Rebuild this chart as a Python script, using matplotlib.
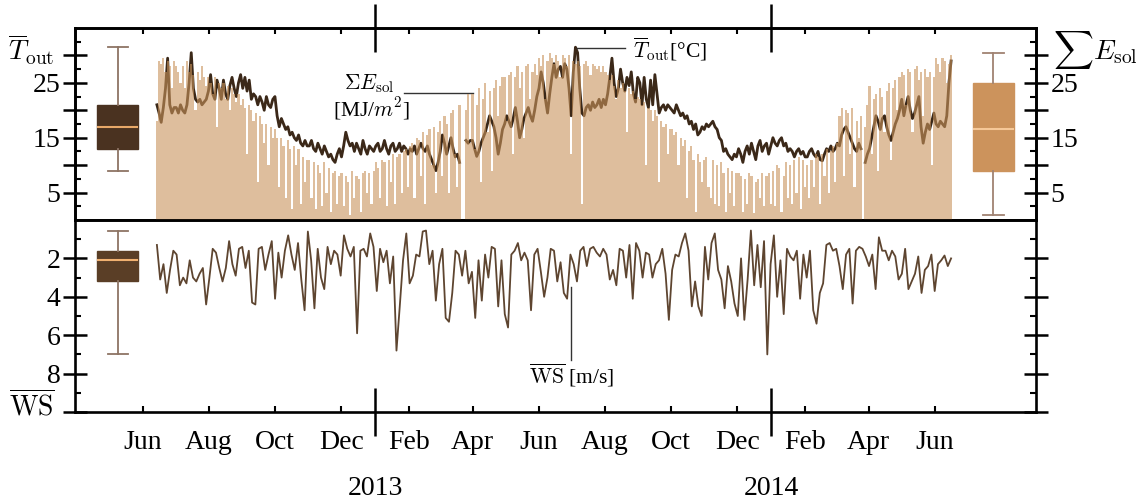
import numpy as np
import matplotlib
matplotlib.use("Agg")
import matplotlib.pyplot as plt
import matplotlib.dates as mdates
import matplotlib.transforms as mtransforms
from matplotlib.ticker import FixedLocator

plt.rcParams['font.family'] = ['Liberation Serif', 'DejaVu Serif']
plt.rcParams['mathtext.fontset'] = 'cm'
plt.rcParams['font.size'] = 20

nan = np.nan

# daily-mean outdoor temperature [degC], read every ~2 days, 2012-06-14 .. 2014-06-16
t_out = [
    21, 19.5, 17.8, 20.5, 24, 29.5, 21, 19.5, 20.5,                              # Jun 12
    20.5, 19.5, 21, 20, 19.5, 21, 25, 30.5, 24, 22, 21.5, 22, 21, 21.5, 22,         # Jul
    23.5, 26.5, 23, 22, 25.5, 24, 22, 25.5, 23, 22, 24.5, 26, 24, 22.5, 25, 26.5,   # Aug
    24, 26, 23.5, 25.5, 22, 23, 22.5, 21, 22.5, 21.5, 20, 22.5, 21, 20.5, 22,       # Sep
    22.5, 19, 17, 18.5, 17.5, 16.5, 17, 15.5, 16, 15, 14.5, 15.5, 14, 13.5, 14.5, 13.5,  # Oct
    13.5, 14.5, 13, 12.5, 14, 13, 12, 13.5, 12.5, 11.5, 12, 11, 10.5, 12, 13,       # Nov
    11.5, 13.5, 16, 14.5, 13.5, 14, 12.5, 14, 13, 12, 14.5, 13, 12, 13.5, 13, 12.5, # Dec
    13.5, 14, 12.5, 13, 14.5, 13, 12, 13.5, 14, 12.5, 13, 14, 12.5, 13.5, 13, 12,   # Jan 13
    13, 12.5, 13.5, 12, 13, 14, 13, 12.5, 13.5, 12, 11, 10, 9, 10.5,                # Feb
    12.5, 15.5, 14, 12, 13.5, 15, 13, 11.5, 12, 10.5, nan, nan, 14.5, 14, 14.5,     # Mar
    14.5, 13, 11.6, 12.5, 14, 15, 16, 17.5, 19, 18, 17, 15, 12, 14, 16.5,           # Apr
    17.5, 19, 18, 17, 18.5, 20.5, 18, 15, 16.5, 18.5, 19.5, 20.5, 19, 18, 20, 22.5, # May
    24, 27, 25, 22, 19.5, 23, 26, 28.5, 26, 27.5, 28, 26, 28.5, 27.5, 24,           # Jun
    19, 27, 31.5, 30.5, 24, 19.5, 19, 20.5, 21, 20, 21.5, 20.5, 21, 22, 20.5, 22,   # Jul
    21, 23, 26, 29.5, 25, 22.5, 24, 27.5, 25, 23.5, 26, 24.5, 27, 23, 21.5, 26,     # Aug
    25, 21, 26, 22, 20.5, 25.5, 21, 26.5, 23, 19.5, 20.5, 21, 20, 21, 20.5,         # Sep
    20, 19.5, 21, 20, 19, 19.5, 18.5, 19, 17.5, 18, 16.5, 17.5, 15.5, 16, 17, 16.5, # Oct
    17.5, 17, 17.5, 18, 17, 16.5, 15, 14.5, 12.5, 13, 12, 11.5, 11, 12, 11.5,       # Nov
    13, 12, 10.5, 12.5, 13.5, 12, 14, 12.5, 11, 13.5, 14.5, 12.5, 13.5, 14, 12, 13.5,  # Dec
    15, 14, 13.5, 14.5, 15, 13.5, 14, 12.5, 13, 12.5, 11.5, 12.5, 13, 12, 12.5, 11.5,  # Jan 14
    11.5, 12.5, 13, 12, 11.5, 12.5, 11, 10.8, 12, 13, 12.5, 13.5, 12.5, 13,         # Feb
    14, 13.5, 15.5, 16.5, 17, 16, 15, 14, 13, 12.5, 14, 13, nan, 10.5, 12,          # Mar
    13, 15, 17, 19, 18, 16.5, 18.5, 19, 17, 15.5, 14.5, 16, 17.5, 18.5, 20,         # Apr
    22, 19, 21, 22.5, 20, 18.5, 19.5, 21, 22.5, 17, 14, 16, 17.5, 16.5, 18, 19.5,   # May
    17.5, 17, 18, 17.5, 17, 19, 25, 29,                                             # Jun
]

# daily solar irradiation sum [MJ/m2], same sampling
e_sol = [
    18, 29, 28.5, 29.5, 27, 29, 28, 24, 29,
    28, 27, 25, 28, 24, 29, 27, 28.5, 26.5, 20, 27, 25.5, 28, 26, 24.5,
    26, 25, 23, 26, 17, 25, 24, 25, 22, 24.5, 20, 24, 23, 21.5, 23, 21,
    22, 20.5, 12, 21, 20, 18, 19.5, 7, 19, 17.5, 14, 17.5, 10, 17, 15,
    16.5, 15, 6, 15, 13.5, 4, 14.5, 13, 2, 13.5, 10, 13, 3, 11.5, 7, 11,
    11, 4, 10.5, 2, 10, 8.5, 2.5, 10.5, 5, 9.5, 1.5, 8.5, 9, 3, 8,
    8.5, 2.5, 8, 7, 0.9, 9, 4, 8, 7.5, 1.5, 8.5, 9, 5, 8.5, 3, 9,
    10.5, 9.5, 4, 11, 10.5, 2.5, 11, 7, 12, 3, 11.5, 12, 5, 12.5, 13, 6,
    13.5, 14, 4, 15, 14.5, 8, 16, 3, 15.5, 16.5, 10, 17, 5, 16,
    18, 8, 19, 17.5, 5, 19.5, 20, 12, 6, 21, nan, nan, 20, 23, 14,
    23, 13, 21, 24, 7, 22, 25, 16, 23.5, 9, 24, 25.5, 19, 24.5, 26,
    26, 18, 26.5, 27, 12, 26, 28, 24, 27, 15, 28, 28.5, 22, 27, 28.5, 26.5,
    29.5, 28, 30, 22, 29, 30.5, 29.5, 28.5, 30, 29, 26, 30, 29.5, 28, 30,
    12, 29, 28.5, 29, 28, 3, 28.5, 29, 28, 26.5, 28.5, 28, 27.5, 28, 27, 28,
    27, 26.5, 25.5, 26.5, 24.5, 22, 25.5, 24, 25, 23.5, 16, 24, 23, 23.5, 22, 22.5,
    22, 21, 21.5, 10, 20.5, 20, 18, 20, 19, 7, 18, 17, 17.5, 12, 16.5,
    16.5, 15.5, 16, 10, 15, 13.5, 14.5, 4, 12.5, 13.5, 11, 1.5, 12, 10.5, 7, 11,
    11.5, 6, 4, 11, 3, 10, 2.5, 10.5, 8.5, 1.5, 9.5, 5, 9, 2.5, 8.5,
    8.5, 8, 1.5, 7.5, 3, 8.5, 8, 1.2, 7, 7.5, 4, 8.5, 2.5, 8, 8.5, 3,
    9, 2.5, 10, 9.5, 1.5, 8, 10.5, 4, 10, 3, 11, 5, 11.5, 2, 11, 6,
    10, 4, 11, 6, 12, 11.5, 3, 12, 8, 13, 5, 12.5, 13.5, 7,
    14, 19, 20.5, 8, 20, 19.5, 12, 20.5, 6, 18, 15, 19, nan, 17, 21,
    24.5, 12, 22, 23, 9, 24, 22.5, 16, 23.5, 25, 11, 24, 25.5, 20, 26,
    27, 26.5, 21, 27.5, 27, 16, 27.5, 28, 25.5, 27, 19, 27.5, 26, 27, 10, 26,
    29.5, 28.5, 27, 29.5, 29, 25, 28.5, 30,
]

# daily-mean wind speed [m/s], read every ~3 days
ws = [
    1.3, 3.1, 2.3, 3.8, 2.6, 1.6, 1.8, 3.4, 3.0, 3.3,
    2.1, 3.0, 3.2, 2.8, 2.5, 4.4, 3.0, 1.5, 1.7, 2.5, 3.2,
    2.5, 1.1, 2.3, 2.9, 1.5, 1.4, 2.5, 1.6, 4.3, 4.4,
    1.5, 1.4, 2.6, 1.8, 1.1, 4.1, 1.7, 3.0, 1.6, 0.8,
    1.8, 2.6, 1.2, 3.1, 4.7, 0.6, 2.1, 4.6, 1.5, 3.0,
    3.6, 1.4, 2.3, 1.6, 1.8, 2.9, 0.8, 1.5, 1.9, 1.4, 5.9,
    1.6, 1.5, 1.9, 0.7, 1.4, 3.7, 1.5, 2.2, 1.6, 3.3,
    1.9, 6.8, 4.5, 2.1, 0.7, 3.3, 2.9, 1.8, 1.9, 0.6,
    0.55, 2.3, 1.6, 4.2, 2.3, 1.5, 5.1, 5.3, 3.8, 1.6,
    1.8, 2.9, 1.6, 3.3, 2.7, 5.1, 2.1, 4.2, 1.8, 3.0, 1.4,
    1.5, 4.5, 2.1, 4.9, 5.6, 1.8, 1.6, 1.2, 2.1, 1.7, 2.1,
    4.7, 1.8, 1.5, 2.7, 4.0, 3.0, 1.5, 1.6, 3.2, 2.2,
    3.8, 4.1, 1.8, 2.3, 3.2, 1.6, 1.4, 2.4, 1.5, 1.4, 1.7,
    1.9, 1.5, 1.8, 3.1, 2.6, 3.4, 1.5, 1.6, 3.0, 1.3,
    4.1, 1.2, 1.6, 3.0, 1.7, 1.8, 3.0, 2.3, 2.1, 1.5, 2.8,
    5.2, 2.6, 1.8, 1.9, 1.2, 0.7, 1.6, 4.5, 3.2,
    4.5, 5.0, 1.4, 3.1, 1.2, 0.7, 2.6, 3.1, 4.6, 2.4,
    3.2, 4.35, 5.0, 2.0, 5.2, 3.1, 0.55, 3.4, 1.3, 3.5,
    1.1, 7.0, 2.3, 0.8, 4.0, 2.1, 4.9, 1.5, 1.9, 2.1,
    1.6, 4.1, 1.8, 3.0, 1.6, 4.7, 5.4, 3.8, 3.3, 1.3,
    1.2, 1.6, 1.5, 2.4, 3.6, 1.8, 1.5, 4.35, 1.6, 1.4,
    1.5, 1.9, 2.4, 1.8, 3.6, 0.9, 1.6, 1.6, 2.1, 1.6,
    1.9, 3.1, 2.8, 1.5, 3.6, 3.2, 2.8, 1.9, 3.8, 2.6,
    2.4, 1.8, 3.7, 2.3, 2.1, 1.85, 2.4, 2.0,
]

month_ticks = ['2012-06-01', '2012-08-01', '2012-10-01', '2012-12-01',
               '2013-02-01', '2013-04-01', '2013-06-01', '2013-08-01',
               '2013-10-01', '2013-12-01', '2014-02-01', '2014-04-01', '2014-06-01']
year_ticks = ['2013-01-01', '2014-01-01']

first_day = np.datetime64('2012-06-14')
last_day = np.datetime64('2014-06-16')

c_temp = '#3b2818'
c_bar = '#c8935c'
c_wind = '#5e4530'


def dnum(s):
    return mdates.date2num(np.datetime64(s))


def day_positions(values):
    span = (last_day - first_day).astype(int)
    return dnum(first_day) + np.linspace(0, span, len(values))


t_arr = np.array(t_out, dtype=float)
s_arr = np.array(e_sol, dtype=float)
w_arr = np.array(ws, dtype=float)
x_t = day_positions(t_arr)
x_s = day_positions(s_arr)
x_w = day_positions(w_arr)

fig = plt.figure(figsize=(11.38, 5.01), dpi=100)
ax_t = fig.add_axes([0.0659, 0.5609, 0.8445, 0.3832])
ax_w = fig.add_axes([0.0659, 0.1776, 0.8445, 0.3833], sharex=ax_t)
ax_s = ax_t.twinx()

# temperature line + solar bars on top (semi transparent)
ax_t.plot(x_t, t_arr, color=c_temp, lw=2.0)
ax_s.bar(x_s, s_arr, width=x_s[1] - x_s[0], color=c_bar, alpha=0.6, linewidth=0)

box_w = 38
left_pos = dnum('2012-05-09')
right_pos = dnum('2014-07-25')


def draw_box(ax, data, pos, face, med, whisk):
    ax.boxplot(data[~np.isnan(data)], positions=[pos], widths=box_w, whis=(0, 100),
               patch_artist=True, showfliers=False, manage_ticks=False,
               boxprops=dict(facecolor=face, edgecolor=face, linewidth=1),
               medianprops=dict(color=med, linewidth=1.5),
               whiskerprops=dict(color=whisk, linewidth=1.3),
               capprops=dict(color=whisk, linewidth=1.3))


draw_box(ax_t, t_arr, left_pos, '#4a3220', '#e8a868', '#8e7464')
draw_box(ax_s, s_arr, right_pos, '#cc935c', '#f6c898', '#a08272')

ax_w.plot(x_w, w_arr, color=c_wind, lw=1.3)
draw_box(ax_w, w_arr, left_pos, '#5a3e26', '#f0b070', '#8e7464')

# axes limits
ax_t.set_xlim(dnum('2013-01-01') - 276.5, dnum('2013-01-01') + 609.3)
ax_t.set_ylim(0, 35)
ax_s.set_ylim(0, 35)
ax_w.set_ylim(10, 0)

# y ticks
ax_t.yaxis.set_major_locator(FixedLocator([5, 10, 15, 20, 25, 30]))
ax_t.set_yticklabels(['5', '', '15', '', '25', ''])
ax_s.yaxis.set_major_locator(FixedLocator([5, 10, 15, 20, 25, 30]))
ax_s.set_yticklabels(['5', '', '15', '', '25', ''])
for a in (ax_t, ax_s):
    a.yaxis.set_minor_locator(FixedLocator(np.arange(2.5, 35, 5)))
ax_w.yaxis.set_major_locator(FixedLocator([2, 4, 6, 8, 10]))
ax_w.set_yticklabels(['2', '4', '6', '8', ''])
ax_w.yaxis.set_minor_locator(FixedLocator([1, 3, 5, 7, 9]))

for a in (ax_t, ax_s, ax_w):
    a.tick_params(axis='y', which='major', direction='inout', length=17, width=1.8, pad=2)
    a.tick_params(axis='y', which='minor', direction='in', length=4.5, width=1.5)
ax_w.tick_params(axis='y', which='both', left=True, right=True, labelright=False)

# axis name labels sitting at the top / bottom tick
tr_t = mtransforms.blended_transform_factory(ax_t.transAxes, ax_t.transData)
tr_w = mtransforms.blended_transform_factory(ax_w.transAxes, ax_w.transData)
ax_t.text(-0.021, 31.0, r'$\overline{T}_{\rm out}$', transform=tr_t,
          ha='right', va='center', clip_on=False)
ax_t.text(1.018, 31.0, r'$\sum E_{\rm sol}$', transform=tr_t,
          ha='left', va='center', clip_on=False)
ax_w.text(-0.021, 9.7, r'$\overline{\rm WS}$', transform=tr_w,
          ha='right', va='center', clip_on=False)

# x ticks
for a in (ax_t, ax_w):
    a.xaxis.set_major_locator(FixedLocator([dnum(m) for m in month_ticks]))
    a.xaxis.set_minor_locator(FixedLocator([dnum(y) for y in year_ticks]))
ax_w.xaxis.set_major_formatter(mdates.DateFormatter('%b'))
ax_w.xaxis.set_minor_formatter(mdates.DateFormatter('%Y'))
ax_t.tick_params(axis='x', which='both', bottom=False, top=True,
                 labelbottom=False, labeltop=False)
ax_t.tick_params(axis='x', which='major', direction='in', length=4, width=1.5)
ax_t.tick_params(axis='x', which='minor', direction='inout', length=34, width=1.8)
ax_w.tick_params(axis='x', which='both', top=False, bottom=True)
ax_w.tick_params(axis='x', which='major', direction='in', length=4, width=1.5, pad=13)
ax_w.tick_params(axis='x', which='minor', direction='inout', length=34, width=1.8, pad=29)

for a in (ax_t, ax_s, ax_w):
    for sp in a.spines.values():
        sp.set_linewidth(1.9)

# annotations
ax_t.text(dnum('2012-12-27'), 24.8, r'$\Sigma E_{\rm sol}$', fontsize=15.5,
          ha='center', va='center')
ax_t.text(dnum('2012-12-29'), 20.3, r'[MJ/$m^2$]', fontsize=15.5,
          ha='center', va='center')
ax_t.plot([dnum('2013-01-28'), dnum('2013-04-01')], [23.2, 23.2], color='#333333', lw=1)

ax_t.plot([dnum('2013-07-06'), dnum('2013-08-19')], [31.4, 31.4], color='#333333', lw=1)
ax_t.text(dnum('2013-08-27'), 31.2, r'$\overline{T}_{\rm out}$[°C]', fontsize=15.5,
          ha='left', va='center')

ax_w.plot([dnum('2013-07-01'), dnum('2013-07-01')], [3.5, 7.3], color='#333333', lw=1)
ax_w.text(dnum('2013-07-01'), 8.1, r'$\overline{\rm WS}$ [m/s]', fontsize=15.5,
          ha='center', va='center')

fig.savefig('out.png', dpi=100)
